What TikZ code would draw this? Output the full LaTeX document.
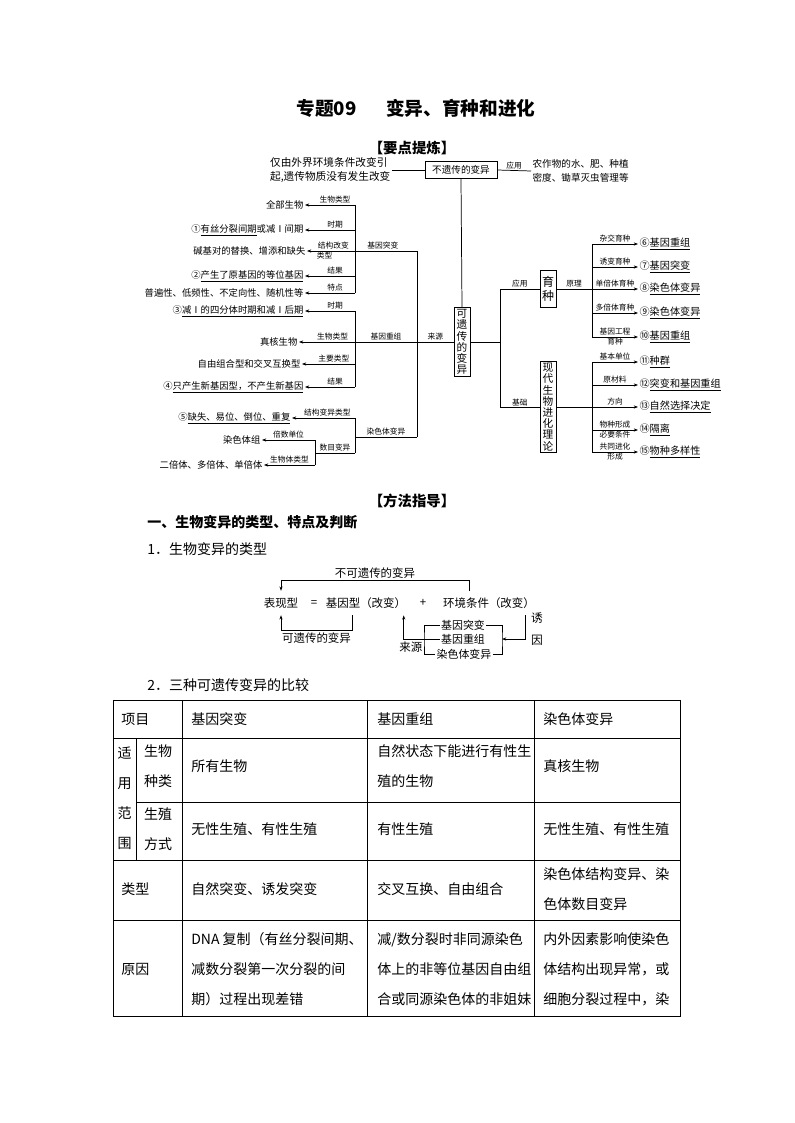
\documentclass[tikz,border=0pt]{standalone}
\usepackage{fontspec}
\setmainfont{Noto Sans CJK SC}
\usetikzlibrary{arrows.meta,calc}

\begin{document}
\begin{tikzpicture}[x=0.75pt, y=-0.75pt,
    link/.style={line width=0.55pt},
    arr/.style={line width=0.55pt, -{Stealth[length=3.2pt,width=2.4pt]}},
    leaf/.style={font=\fontsize{7}{10.5}\selectfont, inner sep=1pt, anchor=east},
    rleaf/.style={font=\fontsize{7.6}{9}\selectfont, inner sep=1pt, anchor=west},
    lbl/.style={font=\fontsize{5.8}{6.5}\selectfont, inner sep=0.8pt},
    vbox/.style={draw, line width=0.6pt, font=\fontsize{8}{8.4}\selectfont, align=center, inner xsep=2pt, inner ysep=1.5pt},
    dtxt/.style={font=\fontsize{8.6}{10}\selectfont, inner xsep=1pt, inner ysep=5pt},
    dlbl/.style={font=\fontsize{8.6}{10}\selectfont, inner sep=1.5pt},
    btxt/.style={font=\fontsize{8.2}{10}\selectfont, inner sep=1pt},
    body/.style={font=\fontsize{10.5}{22.5}\selectfont, inner sep=0pt, anchor=west, align=left},
    tabline/.style={line width=0.75pt}
]
    % page
    \fill[white] (0,0) rectangle (794,1123);

    % Title
    \node[font=\fontsize{14}{16}\selectfont\bfseries] (title) at (416,108) {专题09\hspace{22pt}变异、育种和进化};
    \node[font=\fontsize{10.8}{12}\selectfont\bfseries] (sum) at (412,148) {【要点提炼】};

    % Non-heritable variation
    \node[leaf, align=left, font=\fontsize{8}{10.5}\selectfont] (envtxt) at (392,170) {仅由外界环境条件改变引\\起,遗传物质没有发生改变};
    \node[vbox, font=\fontsize{7.2}{8}\selectfont, minimum width=54pt, minimum height=12.75pt] (nonher) at (461,170) {不遗传的变异};
    \node[rleaf, align=left, font=\fontsize{7.2}{10.5}\selectfont] (farm) at (531,171) {农作物的水、肥、种植\\密度、锄草灭虫管理等};
    \draw[link] (envtxt.east) -- (nonher.west);
    \draw[link] (nonher.east) -- node[lbl, above] {应用} (farm.west);

    % Heritable variation
    \node[vbox] (her) at (462,342) {可\\遗\\传\\的\\变\\异};
    \draw[link] (nonher.south) -- (her.north);

    % Sources
    \coordinate (srcbar) at (417,342);
    \coordinate (gmbar) at (355,0);
    \coordinate (nbar) at (315,0);
    \draw[link] (her.west) -- node[lbl, above] {来源} (srcbar);

    % Gene mutation
    \node[leaf] (gm1) at (305,205) {全部生物};
    \node[leaf] (gm2) at (305,230) {①\underline{有丝分裂间期}或减Ⅰ间期};
    \node[leaf] (gm3) at (307,251) {碱基对的替换、增添和缺失};
    \node[leaf] (gm4) at (305,276) {②\underline{产生了原基因的等位基因}};
    \node[leaf] (gm5) at (305,293) {普遍性、低频性、不定向性、随机性等};
    \draw[link] (gm1.east -| gmbar) -- (gm5.east -| gmbar);
    \draw[arr] (gm1.east -| gmbar) -- node[lbl, above, pos=0.4] {生物类型} (gm1.east);
    \draw[arr] (gm2.east -| gmbar) -- node[lbl, above, pos=0.4] {时期} (gm2.east);
    \draw[arr] (gm3.east -| srcbar) -- node[lbl, above, pos=0.31] {基因突变} node[lbl, above, pos=0.76] {结构改变} node[lbl, below, pos=0.84] {类型} (gm3.east);
    \draw[arr] (gm4.east -| gmbar) -- node[lbl, above, pos=0.4] {结果} (gm4.east);
    \draw[arr] (gm5.east -| gmbar) -- node[lbl, above, pos=0.4] {特点} (gm5.east);

    % Gene recombination
    \node[leaf] (gr1) at (305,311) {③\underline{减Ⅰ的四分体时期和减Ⅰ后期}};
    \node[leaf] (gr2) at (299,342) {真核生物};
    \node[leaf] (gr3) at (302,364) {自由组合型和交叉互换型};
    \node[leaf] (gr4) at (305,387) {④\underline{只产生新基因型，不产生新基因}};
    \draw[link] (gr1.east -| gmbar) -- (gr4.east -| gmbar);
    \draw[link] (srcbar) -- node[lbl, above] {基因重组} (gr2.east -| gmbar);
    \draw[arr] (gr1.east -| gmbar) -- node[lbl, above, pos=0.4] {时期} (gr1.east);
    \draw[arr] (gr2.east -| gmbar) -- node[lbl, above, pos=0.4] {生物类型} (gr2.east);
    \draw[arr] (gr3.east -| gmbar) -- node[lbl, above, pos=0.4] {主要类型} (gr3.east);
    \draw[arr] (gr4.east -| gmbar) -- node[lbl, above, pos=0.4] {结果} (gr4.east);

    % Chromosome variation
    \coordinate (cvj) at (355,437);
    \coordinate (nj) at (315,453);
    \node[leaf] (cv1) at (292,418) {⑤\underline{缺失、易位、倒位、重复}};
    \node[leaf] (cv2) at (262,440) {染色体组};
    \node[leaf] (cv3) at (264,465) {二倍体、多倍体、单倍体};
    \draw[link] (gm3.east -| srcbar) -- (cvj -| srcbar);
    \draw[link] (cvj -| srcbar) -- node[lbl, above] {染色体变异} (cvj);
    \draw[link] (cv1.east -| gmbar) -- (nj -| gmbar);
    \draw[arr] (cv1.east -| gmbar) -- node[lbl, above, pos=0.44] {结构变异类型} (cv1.east);
    \draw[link] (nj -| gmbar) -- node[lbl, above] {数目变异} (nj);
    \draw[link] (cv2.east -| nbar) -- (cv3.east -| nbar);
    \draw[arr] (cv2.east -| nbar) -- node[lbl, above] {倍数单位} (cv2.east);
    \draw[arr] (cv3.east -| nbar) -- node[lbl, above] {生物体类型} (cv3.east);

    % Applications and basis
    \coordinate (rbar) at (500,342);
    \coordinate (bbar) at (592,0);
    \draw[link] (her.east) -- (rbar);
    \node[vbox, font=\fontsize{9}{11}\selectfont, inner xsep=1.5pt, inner ysep=4pt] (brd) at (548,289) {育\\种};
    \node[vbox] (evo) at (548,407) {现\\代\\生\\物\\进\\化\\理\\论};
    \draw[link] (rbar |- brd.west) -- (rbar |- evo.west);
    \draw[link] (rbar |- brd.west) -- node[lbl, above] {应用} (brd.west);
    \draw[link] (rbar |- evo.west) -- node[lbl, above] {基础} (evo.west);

    % Breeding
    \node[rleaf] (br1) at (638,244) {⑥\underline{基因重组}};
    \node[rleaf] (br2) at (638,267) {⑦\underline{基因突变}};
    \node[rleaf] (br3) at (638,289) {⑧\underline{染色体变异}};
    \node[rleaf] (br4) at (638,313) {⑨\underline{染色体变异}};
    \node[rleaf] (br5) at (638,337) {⑩\underline{基因重组}};
    \draw[link] (br1.west -| bbar) -- (br5.west -| bbar);
    \draw[link] (brd.east) -- node[lbl, above] {原理} (br3.west -| bbar);
    \draw[arr] (br1.west -| bbar) -- node[lbl, above] {杂交育种} (br1.west);
    \draw[arr] (br2.west -| bbar) -- node[lbl, above] {诱变育种} (br2.west);
    \draw[arr] (br3.west -| bbar) -- node[lbl, above] {单倍体育种} (br3.west);
    \draw[arr] (br4.west -| bbar) -- node[lbl, above] {多倍体育种} (br4.west);
    \draw[arr] (br5.west -| bbar) -- node[lbl, above] {基因工程} node[lbl, below] {育种} (br5.west);

    % Evolution theory
    \node[rleaf] (ev1) at (638,362) {⑪\underline{种群}};
    \node[rleaf] (ev2) at (638,385) {⑫\underline{突变和基因重组}};
    \node[rleaf] (ev3) at (638,407) {⑬\underline{自然选择决定}};
    \node[rleaf] (ev4) at (638,430) {⑭\underline{隔离}};
    \node[rleaf] (ev5) at (638,452) {⑮\underline{物种多样性}};
    \draw[link] (ev1.west -| bbar) -- (ev5.west -| bbar);
    \draw[link] (evo.east) -- (ev3.west -| bbar);
    \draw[arr] (ev1.west -| bbar) -- node[lbl, above] {基本单位} (ev1.west);
    \draw[arr] (ev2.west -| bbar) -- node[lbl, above] {原材料} (ev2.west);
    \draw[arr] (ev3.west -| bbar) -- node[lbl, above] {方向} (ev3.west);
    \draw[arr] (ev4.west -| bbar) -- node[lbl, above] {物种形成} node[lbl, below] {必要条件} (ev4.west);
    \draw[arr] (ev5.west -| bbar) -- node[lbl, above] {共同进化} node[lbl, below] {形成} (ev5.west);

    % Method section
    \node[font=\fontsize{10.8}{12}\selectfont\bfseries] (meth) at (412,501) {【方法指导】};
    \node[font=\fontsize{10.5}{12}\selectfont\bfseries, anchor=west, inner sep=0pt] (sec1) at (147,522) {一、生物变异的类型、特点及判断};
    \node[font=\fontsize{10.5}{12}\selectfont, anchor=west, inner sep=0pt] (sub1) at (147,549) {1．生物变异的类型};

    % Phenotype equation
    \node[dtxt] (pheno) at (281,603) {表现型};
    \node[dtxt] (eq) at (314,603) {=};
    \node[dtxt] (geno) at (366,603) {基因型（改变）};
    \node[dtxt] (plus) at (423,603) {+};
    \node[dtxt] (envc) at (489,603) {环境条件（改变）};
    \coordinate (e1) at ($(envc.north)+(-20,0)$);
    \coordinate (g1) at ($(geno.south)+(-14,0)$);
    \coordinate (gsrc) at ($(geno.south east)+(-4,0)$);
    \coordinate (yin) at ($(envc.south)+(36,0)$);
    \draw[arr] (e1) -- ++(0,-10) -| node[dlbl, pos=0.25, above] {不可遗传的变异} (pheno.north);
    \draw[arr] (g1) -- ++(0,15) -| node[dlbl, pos=0.25, below] {可遗传的变异} (pheno.south);

    % Sources bracket
    \node[btxt] (mut) at (463,625) {基因突变};
    \node[btxt] (rec) at (463,639) {基因重组};
    \node[btxt] (chr) at (464,654) {染色体变异};
    \coordinate (lb) at (424,639);
    \coordinate (rb) at (502,639);
    \draw[link] (mut.west) -| (lb) |- (chr.west);
    \draw[link] (mut.east) -| (rb) |- (chr.east);
    \draw[arr] (rec.west) -| node[dlbl, pos=0.4, below] {来源} (gsrc);
    \draw[arr] (yin) |- (rb);
    \node[dlbl, align=center, font=\fontsize{8.8}{16}\selectfont] (cause) at (537,629) {诱\\因};

    \node[font=\fontsize{10.5}{12}\selectfont, anchor=west, inner sep=0pt] (sub2) at (147,685) {2．三种可遗传变异的比较};

    % Comparison table
    \draw[tabline] (113,700) rectangle (680,1016);
    \draw[tabline] (113,738) -- (680,738);
    \draw[tabline] (136,802) -- (680,802);
    \draw[tabline] (113,860) -- (680,860);
    \draw[tabline] (113,920) -- (680,920);
    \draw[tabline] (136,738) -- (136,860);
    \draw[tabline] (182,700) -- (182,1016);
    \draw[tabline] (367,700) -- (367,1016);
    \draw[tabline] (534,700) -- (534,1016);

    \node[body] (c00) at (121,719) {项目};
    \node[body] (c01) at (191,719) {基因突变};
    \node[body] (c02) at (377,719) {基因重组};
    \node[body] (c03) at (543,719) {染色体变异};

    \node[body, align=center, anchor=center] (c10) at (124.5,798) {适\\用\\范\\围};
    \node[body, align=center, anchor=center] (c11) at (158,766) {生物\\种类};
    \node[body] (c12) at (191,766) {所有生物};
    \node[body] (c13) at (377,766) {自然状态下能进行有性生\\殖的生物};
    \node[body] (c14) at (543,766) {真核生物};

    \node[body, align=center, anchor=center] (c21) at (158,829) {生殖\\方式};
    \node[body] (c22) at (191,829) {无性生殖、有性生殖};
    \node[body] (c23) at (377,829) {有性生殖};
    \node[body] (c24) at (543,829) {无性生殖、有性生殖};

    \node[body] (c30) at (121,889) {类型};
    \node[body] (c31) at (191,889) {自然突变、诱发突变};
    \node[body] (c32) at (377,889) {交叉互换、自由组合};
    \node[body] (c33) at (543,889) {染色体结构变异、染\\色体数目变异};

    \node[body] (c40) at (121,969) {原因};
    \node[body] (c41) at (191,969) {DNA 复制（有丝分裂间期、\\减数分裂第一次分裂的间\\期）过程出现差错};
    \node[body] (c42) at (377,969) {减/数分裂时非同源染色\\体上的非等位基因自由组\\合或同源染色体的非姐妹};
    \node[body] (c43) at (543,969) {内外因素影响使染色\\体结构出现异常，或\\细胞分裂过程中，染};
\end{tikzpicture}
\end{document}
